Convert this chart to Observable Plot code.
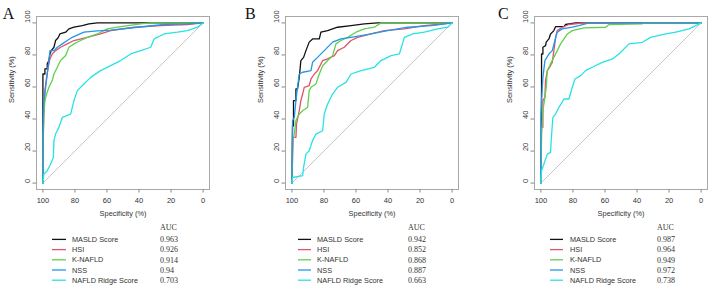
<!DOCTYPE html>
<html><head><meta charset="utf-8">
<script src="https://cdn.jsdelivr.net/npm/d3@7"></script>
<script src="https://cdn.jsdelivr.net/npm/@observablehq/plot@0.6"></script>
<style>
body{margin:0;background:#fff;}
#wrap{position:relative;width:708px;height:288px;overflow:hidden;background:#fff;}
#wrap > svg{position:absolute;top:0;}
</style></head><body><div id="wrap"></div>
<script>
// ---------- data ----------
const panelLabels = ["A", "B", "C"];
const seriesNames = ["MASLD Score", "HSI", "K-NAFLD", "NSS", "NAFLD Ridge Score"];
const seriesColors = ["#111111", "#DF536B", "#61D04F", "#2297E6", "#28E2E5"];
const aucHeader = "AUC";
const aucA = ["0.963", "0.926", "0.914", "0.94", "0.703"];
const aucB = ["0.942", "0.852", "0.868", "0.887", "0.663"];
const aucC = ["0.987", "0.964", "0.949", "0.972", "0.738"];
const xTicks = [100, 80, 60, 40, 20, 0];
const yTicks = [0, 20, 40, 60, 80, 100];
const xLabel = "Specificity (%)";
const yLabel = "Sensitivity (%)";
const chance = [[100, 0], [0, 100]];

// [specificity, sensitivity]
const A_masld = [[100,0],[100,68.1],[98.75,68.1],[98.75,71.3],[97.3,71.3],[97.3,74.4],[96.25,76.5],[95.6,80.6],[94.8,82.7],[93.1,84.8],[92.1,89],[90.6,90.6],[89.4,93.1],[85.8,94.2],[83.75,96.25],[80.6,97.3],[75.4,98.3],[71.25,99.4],[66,100],[0,100]];
const A_hsi = [[100,0],[99.8,26.5],[99.4,43.1],[98.75,57.7],[97.7,66],[96.7,72.3],[95.6,77.5],[94.2,80.6],[92.1,82.7],[89,84.8],[84.8,86.9],[80.6,89],[72.3,91],[64,93.1],[57.7,95.2],[43.1,97.3],[26.5,98.3],[9.8,99],[0,100]];
const A_knafld = [[100,0],[99.8,30.6],[99.4,43.1],[98.75,51.5],[97.7,55.6],[96.25,59.8],[94.2,64],[93.1,68.1],[91,72.3],[89,76.5],[85.8,79.6],[83.75,84.8],[80.6,86.9],[76.5,89],[72.3,91],[66,93.1],[59.8,96.25],[53.5,97.3],[39,99.4],[32.7,100],[0,100]];
const A_nss = [[100,0],[99.8,41],[99.4,51.5],[98.3,59.8],[97.3,68.1],[96.25,76.5],[95.6,82.7],[93.1,82.7],[91,84.8],[87.9,86.9],[84.8,89],[81.7,91],[74.4,94.2],[66,95],[57.7,95.5],[41,97.3],[24.4,99],[10,99.4],[0,100]];
const A_ridge = [[100,0],[99.4,5.6],[97.3,7.7],[95.2,11.9],[93.5,16],[93.1,26.5],[92.1,30.6],[90,34.8],[87.9,41],[82.7,43.1],[80.6,51.5],[78.5,57.7],[74.4,61.9],[70.2,66],[64,70.2],[57.7,73.3],[51.5,76.5],[45.2,80.6],[39,82.7],[32.7,84.8],[30.6,90],[24.4,93.1],[16,94.2],[9.8,95.2],[3.5,97.3],[0,100]];

const B_masld = [[100,0],[99.6,35.8],[99,35.8],[99,51.5],[97.5,51.5],[97.5,58.75],[96.5,58.75],[95.4,66],[94.4,76.5],[92.7,78.5],[91.25,82.7],[89.2,88],[87.1,90],[82.9,90],[81.9,94.2],[77.7,95.2],[71.5,97.3],[63.1,98.3],[54.8,99.4],[46.5,100],[0,100]];
const B_hsi = [[100,0],[99.2,28.5],[97.5,28.5],[97.1,36.9],[95.4,45.2],[94.4,51.5],[93.3,55.6],[92.3,59.8],[89.2,60.8],[88.1,65],[86,68.1],[84,70.2],[80.8,76.5],[77.7,77.5],[73.5,79.6],[71.5,82.7],[67.3,84.8],[63.1,89],[59,91],[50.6,93.1],[42.3,95.2],[29.8,96.25],[17.3,98.3],[9,99],[0,100]];
const B_knafld = [[100,0],[99.6,26.5],[98.5,30.6],[97.5,39],[95.4,43.1],[93.3,45.2],[90.2,47.3],[89.2,57.7],[88.1,59.8],[85,61.9],[82.9,68.1],[80.8,73.3],[77.7,76.5],[74.6,79.6],[72.5,86.9],[69.4,89],[65.2,91],[60,94.2],[54.8,96.25],[48.5,97.3],[44.4,100],[0,100]];
const B_nss = [[100,0],[99.6,39],[98.5,41],[97.5,51.5],[96.5,59.8],[95.4,68.1],[93.3,69.2],[88.1,70.2],[87.1,75.4],[84,78.5],[79.8,82.7],[74.6,88],[69.4,90],[63.1,91],[50.6,93.1],[40.2,95.2],[27.7,97.3],[13.1,98.3],[0,100]];
const B_ridge = [[100,0],[99.6,3.5],[93.3,4.6],[92.7,9.8],[91.25,18.1],[89.2,20.2],[87.1,26.5],[85,30.6],[80.8,32.7],[79.8,43.1],[77.7,49.4],[74.6,55.6],[71.5,59.8],[66.25,62.9],[63.1,68.1],[56.9,70.2],[48.5,72.3],[44.4,76.5],[38.1,79.6],[32.9,80.6],[29.8,91],[24.6,93.1],[17.3,94.2],[9,96.25],[2.7,97.3],[0,100]];

const C_masld = [[100,0],[99.6,59.8],[99.6,80.6],[98.75,80.6],[98.75,84.8],[97.1,85.8],[96.7,88],[95,90],[94,93.1],[91.9,95.2],[90.8,97.7],[85.6,97.7],[84.6,99],[78.3,100],[0,100]];
const C_hsi = [[100,0],[99.6,34.8],[98.75,34.8],[98.75,51.5],[97.5,53.5],[97.1,64],[96,70.2],[94.6,72.3],[92.9,75.4],[91.9,82.7],[90.8,91],[89.8,95.2],[86.7,97.3],[82.5,99],[73.1,100],[0,100]];
const C_knafld = [[100,0],[99.6,30.6],[98.75,45.2],[97.5,53.5],[96.7,59.8],[96,70.2],[94,74.4],[91.9,78.5],[89.8,82.7],[87.7,86.9],[85.6,90],[83.5,93.1],[80.4,95.2],[73.1,96.9],[59.6,97.3],[57.5,99],[36.7,99.4],[35.6,100],[0,100]];
const C_nss = [[100,0],[100,40],[99.6,51.5],[98.75,66],[97.5,76.5],[95,80.6],[92.9,82.7],[91.25,89],[89.8,94.2],[86.7,96.25],[80.4,97.3],[76.25,98.3],[70,100],[0,100]];
const C_ridge = [[100,0],[99.6,7.7],[98.1,11.9],[96,18.1],[94,19.2],[93.3,30.6],[92.5,41],[90.8,43.1],[88.75,47.3],[85.6,52.5],[82.5,52.5],[80.4,59.8],[78.75,65],[75.2,67.1],[72.1,70.2],[67.9,72.3],[61.7,75.4],[55.4,77.5],[51.25,80.6],[45,86.9],[36.7,87.9],[31.5,91],[22.1,93.1],[15.8,94.2],[7.5,96.25],[3.3,98.3],[0,100]];

const curvesA = [A_masld, A_hsi, A_knafld, A_nss, A_ridge];
const curvesB = [B_masld, B_hsi, B_knafld, B_nss, B_ridge];
const curvesC = [C_masld, C_hsi, C_knafld, C_nss, C_ridge];

// ---------- drawing ----------
const SANS = "'Liberation Sans', Arial, sans-serif";
const SERIF = "'Liberation Serif', 'Times New Roman', serif";
const wrap = document.getElementById("wrap");

function makePanel(curves, left) {
  const data = curves.flatMap((pts, i) => pts.map(([x, y]) => ({x, y, series: seriesNames[i]})));
  const svg = Plot.plot({
    width: 236, height: 222,
    marginLeft: 36, marginRight: 27, marginTop: 16, marginBottom: 33,
    x: {domain: [104, -4]},
    y: {domain: [-4, 104]},
    color: {domain: seriesNames, range: seriesColors},
    style: {background: "transparent", fontFamily: SANS, color: "#333", overflow: "visible"},
    marks: [
      Plot.line(chance, {stroke: "#c8c8c8", strokeWidth: 1}),
      Plot.line(data, {x: "x", y: "y", z: "series", stroke: "series", strokeWidth: 1.3}),
      Plot.frame({stroke: "#a8a8a8", strokeWidth: 1}),
      Plot.axisX(xTicks, {tickSize: 3.5, tickFormat: () => "", label: null, stroke: "#888"}),
      Plot.axisY(yTicks, {tickSize: 3.5, tickFormat: () => "", label: null, stroke: "#888"}),
      Plot.text(xTicks, {x: d => d, text: d => String(d), frameAnchor: "bottom", dy: 13.5, fontSize: 7.5, fill: "#333"}),
      Plot.text(yTicks, {y: d => d, text: d => String(d), frameAnchor: "left", dx: -9, rotate: -90, fontSize: 7.5, fill: "#333"}),
      Plot.text([xLabel], {text: d => d, frameAnchor: "bottom", dy: 26.5, fontSize: 7.4, fill: "#333"}),
      Plot.text([yLabel], {text: d => d, frameAnchor: "left", dx: -25, rotate: -90, fontSize: 7.4, fill: "#333"})
    ]
  });
  svg.style.left = left + "px";
  wrap.appendChild(svg);
}

makePanel(curvesA, 0);
makePanel(curvesB, 249);
makePanel(curvesC, 498);

// legends and panel letters
const overlay = d3.select(wrap).append("svg")
  .attr("width", 708).attr("height", 288)
  .style("left", "0px");

const legendLayout = [
  {letterX: 2.7, lineX0: 52, lineX1: 66, textX: 72, aucX: 160, auc: aucA},
  {letterX: 245, lineX0: 298, lineX1: 311, textX: 317, aucX: 408, auc: aucB},
  {letterX: 498, lineX0: 550, lineX1: 563, textX: 570, aucX: 657, auc: aucC}
];
const rowY0 = 239.4, rowStep = 10.2;

legendLayout.forEach((L, p) => {
  overlay.append("text").attr("x", L.letterX).attr("y", 18.6)
    .attr("font-family", SERIF).attr("font-size", 16).attr("fill", "#111").text(panelLabels[p]);
  overlay.append("text").attr("x", L.aucX).attr("y", 230)
    .attr("font-family", SERIF).attr("font-size", 8).attr("fill", "#333").text(aucHeader);
  seriesNames.forEach((name, i) => {
    const y = rowY0 + i * rowStep;
    overlay.append("line").attr("x1", L.lineX0).attr("x2", L.lineX1).attr("y1", y).attr("y2", y)
      .attr("stroke", seriesColors[i]).attr("stroke-width", 1.3);
    overlay.append("text").attr("x", L.textX).attr("y", y + 2.6)
      .attr("font-family", SANS).attr("font-size", 7.3).attr("fill", "#333").text(name);
    overlay.append("text").attr("x", L.aucX).attr("y", y + 2.8)
      .attr("font-family", SERIF).attr("font-size", 8).attr("fill", "#333").text(L.auc[i]);
  });
});
</script></body></html>
